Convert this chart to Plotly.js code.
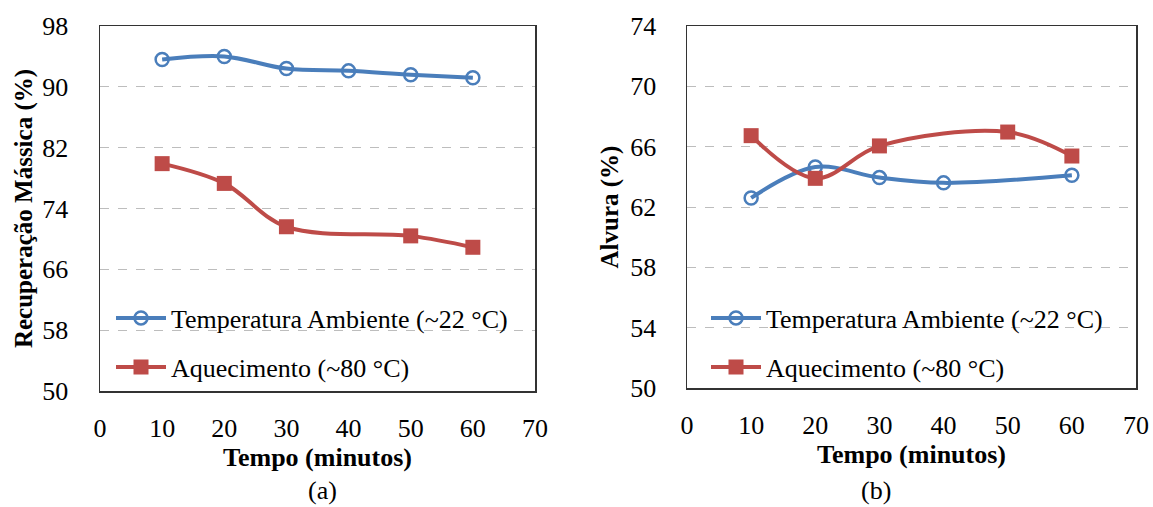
<!DOCTYPE html>
<html><head><meta charset="utf-8">
<script src="https://cdn.plot.ly/plotly-3.0.1.min.js"></script>
<style>html,body{margin:0;padding:0;background:#fff;}#c{width:1153px;height:507px;}</style>
</head><body><div id="c"></div>
<script>
const tempoA_amb = [10, 20, 30, 40, 50, 60];
const recup_amb = [93.6, 94.0, 92.4, 92.1, 91.6, 91.2];
const tempoA_aq = [10, 20, 30, 50, 60];
const recup_aq = [79.9, 77.3, 71.6, 70.4, 68.9];

const tempoB_amb = [10, 20, 30, 40, 60];
const alvura_amb = [62.6, 64.65, 63.95, 63.6, 64.1];
const tempoB_aq = [10, 20, 30, 50, 60];
const alvura_aq = [66.73, 63.9, 66.05, 66.97, 65.38];

const nomeAmb = 'Temperatura Ambiente (~22 °C)';
const nomeAq = 'Aquecimento (~80 °C)';

const blue = '#4A7EBB', red = '#BE4B48';
const F = '"Liberation Serif", "Times New Roman", serif';

function ambTrace(x, y, xa, ya, lg) {
  return {x, y, xaxis: xa, yaxis: ya, name: nomeAmb, legend: lg, type: 'scatter', mode: 'lines+markers',
    line: {color: blue, width: 4, shape: 'spline', smoothing: 1},
    marker: {symbol: 'circle-open', size: 13, color: blue, line: {width: 2.5, color: blue}}};
}
function aqTrace(x, y, xa, ya, lg) {
  return {x, y, xaxis: xa, yaxis: ya, name: nomeAq, legend: lg, type: 'scatter', mode: 'lines+markers',
    line: {color: red, width: 4, shape: 'spline', smoothing: 1},
    marker: {symbol: 'square', size: 15, color: red}};
}

const data = [
  ambTrace(tempoA_amb, recup_amb, 'x', 'y', 'legend'),
  aqTrace(tempoA_aq, recup_aq, 'x', 'y', 'legend2'),
  ambTrace(tempoB_amb, alvura_amb, 'x2', 'y2', 'legend3'),
  aqTrace(tempoB_aq, alvura_aq, 'x2', 'y2', 'legend4'),
];

function xax(dom, anchor) {
  return {domain: dom, anchor, range: [0, 70], dtick: 10, tick0: 0, showgrid: false, zeroline: false,
    showline: true, mirror: true, linecolor: '#333', linewidth: 1.5, ticks: '',
    ticklabelstandoff: 13,
    tickfont: {family: F, size: 26, color: '#000'},
    title: {text: '<b>Tempo (minutos)</b>', font: {family: F, size: 26, color: '#000'}, standoff: 0}};
}
function yax(dom, anchor, r, dt, title, so, tso) {
  return {domain: dom, anchor, range: r, dtick: dt, tick0: 50, showgrid: true, gridcolor: '#bdbdbd',
    griddash: 'dash', gridwidth: 1, zeroline: false, showline: true, mirror: true, linecolor: '#333',
    linewidth: 1.5, ticks: '', ticklabelstandoff: tso,
    tickfont: {family: F, size: 26, color: '#000'},
    title: {text: '<b>' + title + '</b>', font: {family: F, size: 25, color: '#000'}, standoff: so}};
}
function leg(x, y) {
  return {x, y, xref: 'paper', yref: 'paper', xanchor: 'left', yanchor: 'middle', bgcolor: 'rgba(0,0,0,0)',
    font: {family: F, size: 26, color: '#000'}, itemwidth: 50};
}

const layout = {
  width: 1153, height: 507, margin: {l: 0, r: 0, t: 0, b: 0},
  paper_bgcolor: '#fff', plot_bgcolor: '#fff', showlegend: true,
  xaxis: xax([100/1153, 535/1153], 'y'),
  yaxis: yax([1-391/507, 1-26/507], 'x', [50, 98], 8, 'Recuperação Mássica (%)', 2, 25),
  xaxis2: xax([687/1153, 1136/1153], 'y2'),
  yaxis2: yax([1-388/507, 1-26/507], 'x2', [50, 74], 4, 'Alvura (%)', 4, 24),
  legend: leg(111/1153, 1-318/507),
  legend2: leg(111/1153, 1-367/507),
  legend3: leg(706/1153, 1-318/507),
  legend4: leg(706/1153, 1-367/507),
  annotations: [
    {text: '(a)', x: 306/1153, y: 1-490/507, xref: 'paper', yref: 'paper', yanchor: 'middle', showarrow: false, font: {family: F, size: 26, color: '#000'}},
    {text: '(b)', x: 893/1153, y: 1-490/507, xref: 'paper', yref: 'paper', yanchor: 'middle', showarrow: false, font: {family: F, size: 26, color: '#000'}},
  ],
};
Plotly.newPlot('c', data, layout, {staticPlot: true});
</script></body></html>
